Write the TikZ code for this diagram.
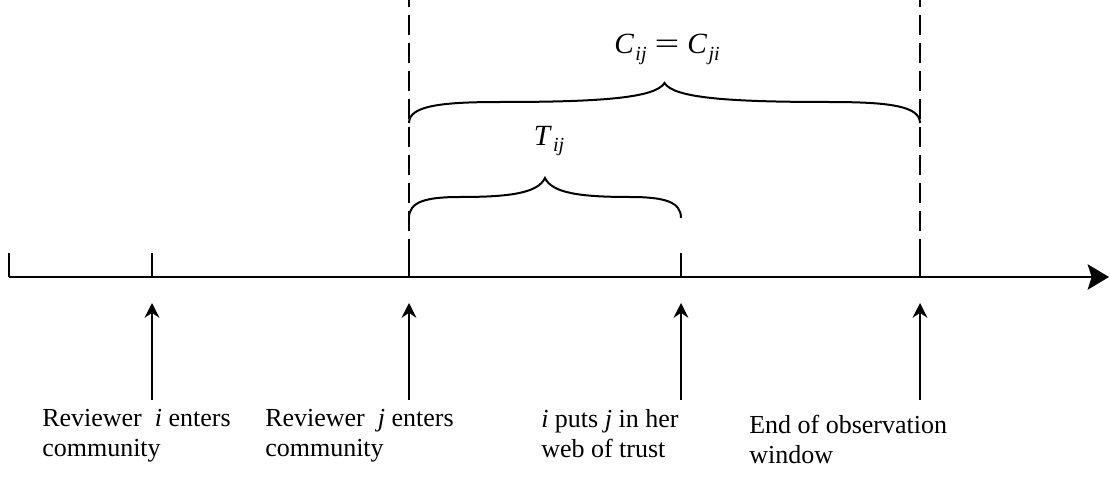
\documentclass[tikz,border=0pt]{standalone}
\usepackage{fontspec}
\setmainfont{Liberation Serif}
\usetikzlibrary{positioning,arrows.meta}
\newcommand{\lowidx}[1]{\raisebox{-0.5ex}{\fontsize{15}{15}\selectfont\kern1pt\textit{#1}}}

\begin{document}
\begin{tikzpicture}[
    x=0.75pt, y=-0.75pt,
    axis/.style={line width=1.4pt, -{Stealth[length=16pt, width=19pt, inset=3pt]}},
    tick/.style={line width=1.4pt},
    pointer/.style={line width=1.4pt, -{Stealth[length=11pt, width=11pt]}},
    window/.style={line width=2pt, dash pattern=on 15pt off 6pt, dash phase=10pt},
    span/.style={line width=1.5pt},
    evtext/.style={align=left, anchor=north west, inner sep=0pt, font=\fontsize{19.5}{22.5}\selectfont},
    sym/.style={anchor=base, inner sep=0pt, font=\fontsize{22}{24}\selectfont}
]
\useasboundingbox (0,0) rectangle (1110,478);
% time axis
\coordinate (start) at (9,277);
\coordinate (stop) at (1109,277);
\coordinate (ti) at (152,277);
\coordinate (tj) at (409,277);
\coordinate (tt) at (681,277);
\coordinate (te) at (920,277);
\draw[axis] (start) -- (stop);
\draw[tick] (start) -- ++(0,-24);
\foreach \t in {ti,tj,tt,te}
    \draw[tick] (\t) -- ++(0,-24);
% observation window
\coordinate (wj) at (409,0);
\coordinate (we) at (920,0);
\draw[window] (wj) -- (tj);
\draw[window] (we) -- (te);
% spans
\coordinate (cl) at (409,123);
\coordinate (cr) at (920,123);
\coordinate (ctip) at (664.5,83);
\coordinate (tl) at (409,218);
\coordinate (tr) at (681,218);
\coordinate (ttip) at (545,178);
\draw[span] (cl) .. controls +(0,-17) and +(-60,0) .. (500,102)
    .. controls +(100,0) and +(-9,15) .. (ctip)
    .. controls +(9,15) and +(-100,0) .. (829,102)
    .. controls +(60,0) and +(0,-17) .. (cr);
\draw[span] (tl) .. controls +(0,-16) and +(-35,0) .. (460,197)
    .. controls +(50,0) and +(-7,15) .. (ttip)
    .. controls +(7,15) and +(-50,0) .. (630,197)
    .. controls +(35,0) and +(0,-16) .. (tr);
\node[sym] (cij) at (667,54) {\textit{C}\lowidx{ij}\hspace{6pt}\scalebox{1.5}[1]{=}\hspace{6pt}\textit{C}\lowidx{ji}};
\node[sym] (tij) at (549,145) {\textit{T}\lowidx{ij}};
% events
\foreach \x/\n in {152/i, 409/j, 681/t, 920/e} {
    \coordinate (a\n) at (\x,400);
    \coordinate (b\n) at (\x,303);
    \draw[pointer] (a\n) -- (b\n);
}
\node[evtext] (enteri) at (42,409) {Reviewer \ \textit{i} enters\\community};
\node[evtext] (enterj) at (265,409) {Reviewer \ \textit{j} enters\\community};
\node[evtext] (trust) at (541,409) {\textit{i} puts \textit{j} in her\\web of trust};
\node[evtext] (endwin) at (749,415) {End of observation\\window};
\end{tikzpicture}
\end{document}
